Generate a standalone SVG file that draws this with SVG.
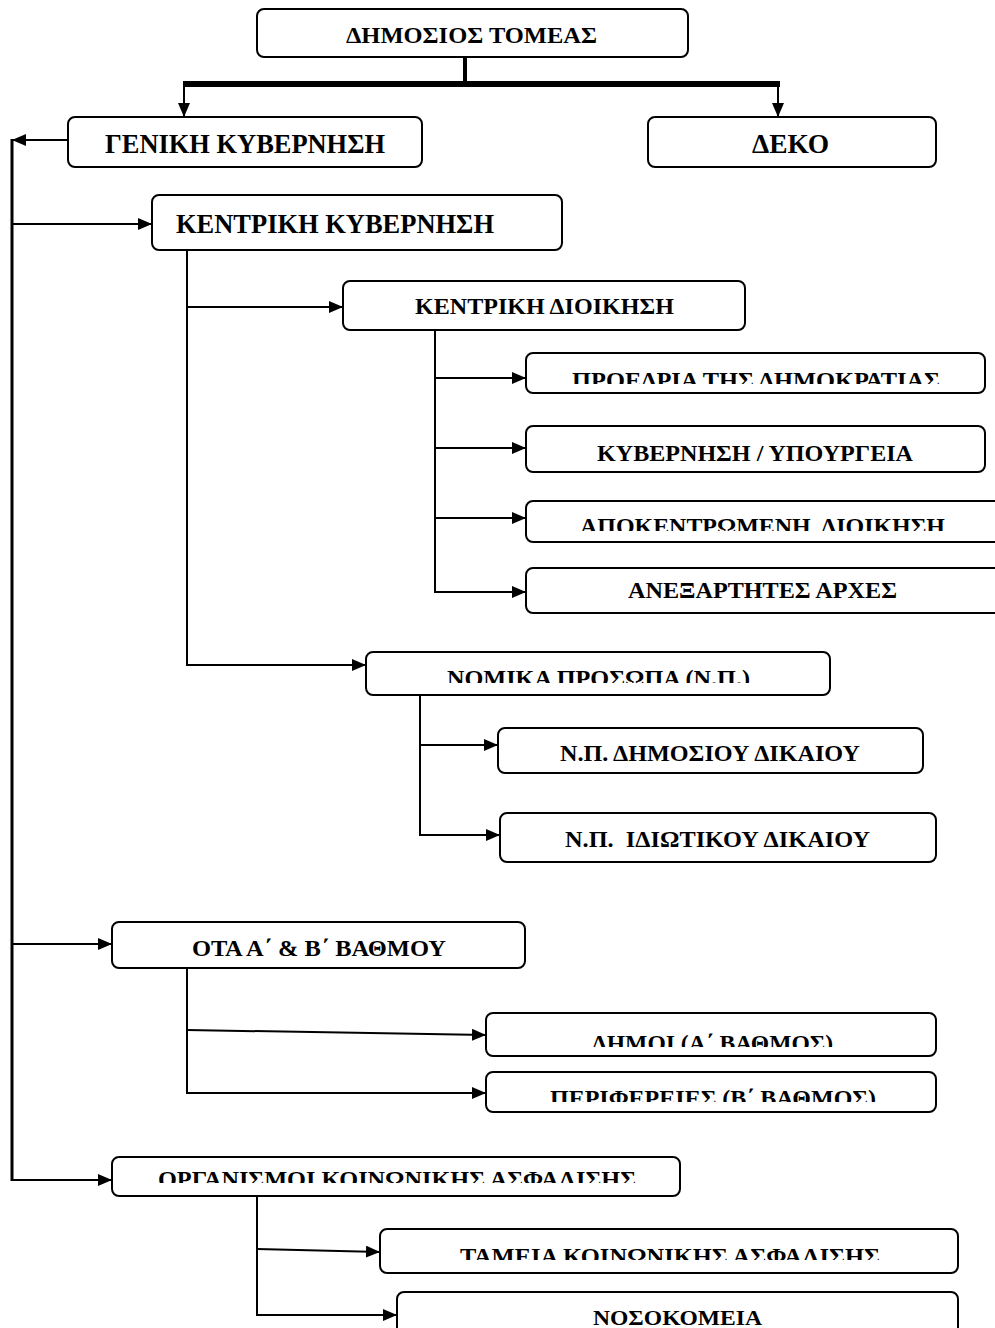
<svg xmlns="http://www.w3.org/2000/svg" width="995" height="1328" viewBox="0 0 995 1328">
<style>
.box{fill:#fff;stroke:#000;stroke-width:2}
.t{font-family:"Liberation Serif","Times New Roman",serif;font-weight:bold;fill:#000;font-size:24px}
.b{font-size:28px}
.c{fill:none;stroke:#000;stroke-width:2}
</style>
<defs>
<marker id="ah" viewBox="0 0 14 12" refX="14" refY="6" markerWidth="14" markerHeight="12" markerUnits="userSpaceOnUse" orient="auto">
<path d="M0,0 L14,6 L0,12 Z" fill="#000"/>
</marker>
<clipPath id="c6"><rect x="526" y="353" width="459" height="31"/></clipPath>
<clipPath id="c8"><rect x="526" y="501" width="469" height="30"/></clipPath>
<clipPath id="c10"><rect x="366" y="652" width="464" height="31"/></clipPath>
<clipPath id="c14"><rect x="486" y="1013" width="450" height="34"/></clipPath>
<clipPath id="c15"><rect x="486" y="1072" width="450" height="30"/></clipPath>
<clipPath id="c16"><rect x="112" y="1157" width="568" height="26"/></clipPath>
<clipPath id="c17"><rect x="380" y="1229" width="578" height="31"/></clipPath>
</defs>
<g id="connectors">
<line x1="465" y1="57" x2="465" y2="84" stroke="#000" stroke-width="4"/>
<line x1="183" y1="84" x2="780" y2="84" stroke="#000" stroke-width="6"/>
<line class="c" x1="184" y1="84" x2="184" y2="117" marker-end="url(#ah)"/>
<line class="c" x1="778" y1="84" x2="778" y2="117" marker-end="url(#ah)"/>
<line class="c" x1="68" y1="140" x2="12" y2="140" marker-end="url(#ah)"/>
<line x1="12" y1="139" x2="12" y2="1181" stroke="#000" stroke-width="3"/>
<line class="c" x1="12" y1="224" x2="152" y2="224" marker-end="url(#ah)"/>
<polyline class="c" points="187,250 187,665 366,665" marker-end="url(#ah)"/>
<line class="c" x1="187" y1="307" x2="343" y2="307" marker-end="url(#ah)"/>
<polyline class="c" points="435,330 435,592 526,592" marker-end="url(#ah)"/>
<line class="c" x1="435" y1="378" x2="526" y2="378" marker-end="url(#ah)"/>
<line class="c" x1="435" y1="448" x2="526" y2="448" marker-end="url(#ah)"/>
<line class="c" x1="435" y1="518" x2="526" y2="518" marker-end="url(#ah)"/>
<polyline class="c" points="420,695 420,835 500,835" marker-end="url(#ah)"/>
<line class="c" x1="420" y1="745" x2="498" y2="745" marker-end="url(#ah)"/>
<line class="c" x1="12" y1="944" x2="112" y2="944" marker-end="url(#ah)"/>
<polyline class="c" points="187,968 187,1093 486,1093" marker-end="url(#ah)"/>
<line class="c" x1="187" y1="1030" x2="486" y2="1035" marker-end="url(#ah)"/>
<polyline class="c" points="12,1180 112,1180" marker-end="url(#ah)"/>
<polyline class="c" points="257,1196 257,1315 397,1315" marker-end="url(#ah)"/>
<line class="c" x1="257" y1="1249" x2="380" y2="1252" marker-end="url(#ah)"/>
</g>
<g id="n1"><rect class="box" x="257" y="9" width="431" height="48" rx="7"/><text class="t" x="346" y="43" textLength="251" lengthAdjust="spacingAndGlyphs">ΔΗΜΟΣΙΟΣ ΤΟΜΕΑΣ</text></g>
<g id="n2"><rect class="box" x="68" y="117" width="354" height="50" rx="7"/><text class="t b" x="105" y="153" textLength="280" lengthAdjust="spacingAndGlyphs">ΓΕΝΙΚΗ ΚΥΒΕΡΝΗΣΗ</text></g>
<g id="n3"><rect class="box" x="648" y="117" width="288" height="50" rx="7"/><text class="t b" x="752" y="153" textLength="77" lengthAdjust="spacingAndGlyphs">ΔΕΚΟ</text></g>
<g id="n4"><rect class="box" x="152" y="195" width="410" height="55" rx="7"/><text class="t b" x="176" y="233" textLength="318" lengthAdjust="spacingAndGlyphs">ΚΕΝΤΡΙΚΗ ΚΥΒΕΡΝΗΣΗ</text></g>
<g id="n5"><rect class="box" x="343" y="281" width="402" height="49" rx="7"/><text class="t" x="415" y="314" textLength="259" lengthAdjust="spacingAndGlyphs">ΚΕΝΤΡΙΚΗ ΔΙΟΙΚΗΣΗ</text></g>
<g id="n6"><rect class="box" x="526" y="353" width="459" height="40" rx="7"/><text class="t" x="572" y="388" textLength="368" lengthAdjust="spacingAndGlyphs" clip-path="url(#c6)">ΠΡΟΕΔΡΙΑ ΤΗΣ ΔΗΜΟΚΡΑΤΙΑΣ</text></g>
<g id="n7"><rect class="box" x="526" y="426" width="459" height="46" rx="7"/><text class="t" x="597" y="461" textLength="316" lengthAdjust="spacingAndGlyphs">ΚΥΒΕΡΝΗΣΗ / ΥΠΟΥΡΓΕΙΑ</text></g>
<g id="n8"><rect class="box" x="526" y="501" width="475" height="41" rx="7"/><text class="t" x="580" y="534" textLength="365" lengthAdjust="spacingAndGlyphs" clip-path="url(#c8)" xml:space="preserve">ΑΠΟΚΕΝΤΡΩΜΕΝΗ  ΔΙΟΙΚΗΣΗ</text></g>
<g id="n9"><rect class="box" x="526" y="568" width="475" height="45" rx="7"/><text class="t" x="628" y="598" textLength="269" lengthAdjust="spacingAndGlyphs">ΑΝΕΞΑΡΤΗΤΕΣ ΑΡΧΕΣ</text></g>
<g id="n10"><rect class="box" x="366" y="652" width="464" height="43" rx="7"/><text class="t" x="447" y="686" textLength="303" lengthAdjust="spacingAndGlyphs" clip-path="url(#c10)">ΝΟΜΙΚΑ ΠΡΟΣΩΠΑ (Ν.Π.)</text></g>
<g id="n11"><rect class="box" x="498" y="728" width="425" height="45" rx="7"/><text class="t" x="560" y="761" textLength="300" lengthAdjust="spacingAndGlyphs">Ν.Π. ΔΗΜΟΣΙΟΥ ΔΙΚΑΙΟΥ</text></g>
<g id="n12"><rect class="box" x="500" y="813" width="436" height="49" rx="7"/><text class="t" x="565" y="847" textLength="305" lengthAdjust="spacingAndGlyphs" xml:space="preserve">Ν.Π.  ΙΔΙΩΤΙΚΟΥ ΔΙΚΑΙΟΥ</text></g>
<g id="n13"><rect class="box" x="112" y="922" width="413" height="46" rx="7"/><text class="t" x="192" y="956" textLength="254" lengthAdjust="spacingAndGlyphs">ΟΤΑ Α΄ &amp; Β΄ ΒΑΘΜΟΥ</text></g>
<g id="n14"><rect class="box" x="486" y="1013" width="450" height="43" rx="7"/><text class="t" x="592" y="1051" textLength="241" lengthAdjust="spacingAndGlyphs" clip-path="url(#c14)">ΔΗΜΟΙ (Α΄ ΒΑΘΜΟΣ)</text></g>
<g id="n15"><rect class="box" x="486" y="1072" width="450" height="40" rx="7"/><text class="t" x="550" y="1106" textLength="326" lengthAdjust="spacingAndGlyphs" clip-path="url(#c15)">ΠΕΡΙΦΕΡΕΙΕΣ (Β΄ ΒΑΘΜΟΣ)</text></g>
<g id="n16"><rect class="box" x="112" y="1157" width="568" height="39" rx="7"/><text class="t" x="158" y="1187" textLength="478" lengthAdjust="spacingAndGlyphs" clip-path="url(#c16)">ΟΡΓΑΝΙΣΜΟΙ ΚΟΙΝΩΝΙΚΗΣ ΑΣΦΑΛΙΣΗΣ</text></g>
<g id="n17"><rect class="box" x="380" y="1229" width="578" height="44" rx="7"/><text class="t" x="460" y="1264" textLength="420" lengthAdjust="spacingAndGlyphs" clip-path="url(#c17)">ΤΑΜΕΙΑ ΚΟΙΝΩΝΙΚΗΣ ΑΣΦΑΛΙΣΗΣ</text></g>
<g id="n18"><rect class="box" x="397" y="1292" width="561" height="50" rx="7"/><text class="t" x="593" y="1325" textLength="169" lengthAdjust="spacingAndGlyphs" style="font-size:22px">ΝΟΣΟΚΟΜΕΙΑ</text></g>
</svg>
